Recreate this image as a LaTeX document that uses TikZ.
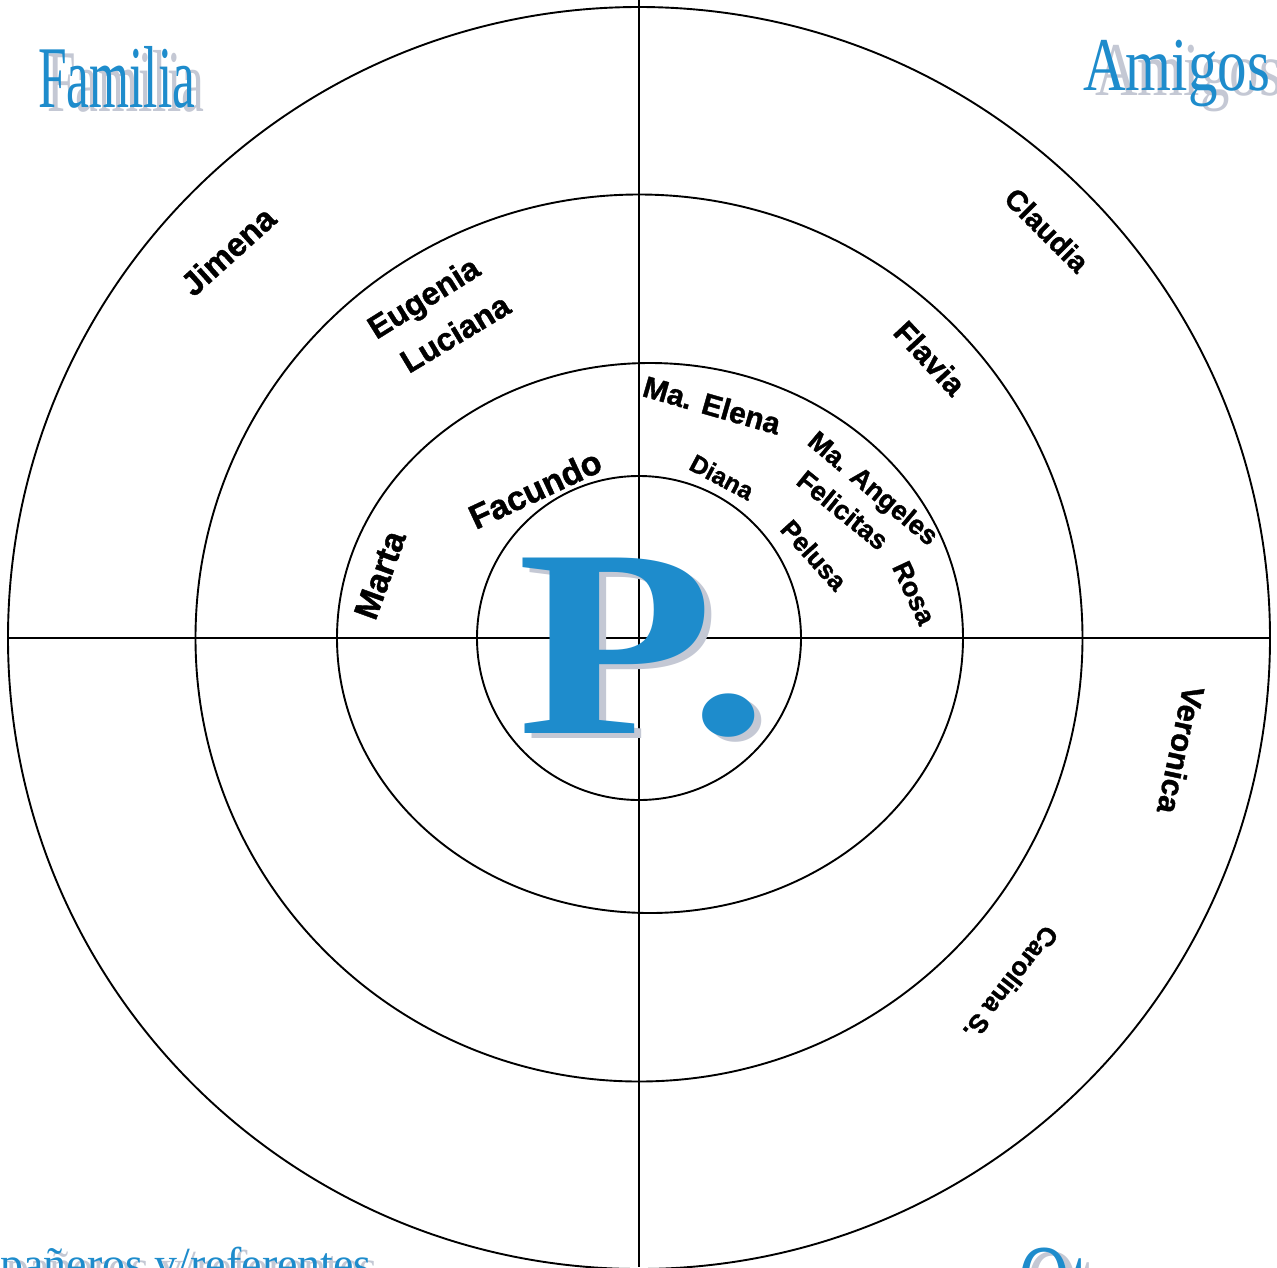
\documentclass[tikz,border=0pt]{standalone}
\usepackage{fontspec}
\setmainfont{Liberation Serif}
\newfontfamily\namefont{Liberation Sans}[BoldFeatures={FakeBold=1.2}]
\definecolor{pblue}{RGB}{30,140,204}
\definecolor{pshadow}{RGB}{196,200,212}
\begin{document}
\begin{tikzpicture}[x=1pt,y=1pt,
  ring/.style={draw=black, line width=1.9pt},
  title/.style={inner sep=0pt, anchor=base west},
  who/.style={inner sep=0pt, font=\namefont\bfseries, text=black}]
\useasboundingbox (0,0) rectangle (1277,-1267);
\clip (0,0) rectangle (1277,-1267);
\fill[white] (0,0) rectangle (1277,-1267);
% rings
\coordinate (C) at (639,-638);
\coordinate (C2) at (650,-638);
\draw[ring] (C) circle[radius=162];
\draw[ring] (C2) ellipse[x radius=313, y radius=275];
\draw[ring] (C) circle[radius=443.5];
\draw[ring] (C) circle[radius=631];
\coordinate (top) at (639,0);
\coordinate (bot) at (639,-1267);
\coordinate (lft) at (8,-638);
\coordinate (rgt) at (1270,-638);
\draw[ring] (top) -- (bot);
\draw[ring] (lft) -- (rgt);
% quadrant titles
\node[title, text=pshadow] (familiash) at (47,-111) {\fontsize{88}{88}\selectfont\scalebox{0.584}[1]{Familia}};
\node[title, text=pblue] (familia) at (38,-107) {\fontsize{88}{88}\selectfont\scalebox{0.584}[1]{Familia}};
\node[title, text=pshadow] (amigossh) at (1095,-95) {\fontsize{76}{76}\selectfont\scalebox{0.776}[1]{Amigos}};
\node[title, text=pblue] (amigos) at (1083,-90) {\fontsize{76}{76}\selectfont\scalebox{0.776}[1]{Amigos}};
\node[title, text=pshadow] (compsh) at (6,-1282) {\fontsize{46}{46}\selectfont pañeros y/referentes};
\node[title, text=pblue] (comp) at (0,-1279) {\fontsize{46}{46}\selectfont pañeros y/referentes};
\node[title, text=pshadow] (otrossh) at (1026,-1323) {\fontsize{72}{72}\selectfont\scalebox{1}[1.5]{Otros}};
\node[title, text=pblue] (otros) at (1018,-1319) {\fontsize{72}{72}\selectfont\scalebox{1}[1.5]{Otros}};
% names
\node[who, rotate=42] (jimena) at (228,-251) {\fontsize{33}{33}\selectfont Jimena};
\node[who, rotate=32] (eugenia) at (425,-300) {\fontsize{32}{32}\selectfont Eugenia};
\node[who, rotate=31] (luciana) at (455,-333) {\fontsize{32}{32}\selectfont Luciana};
\node[who, rotate=70] (marta) at (380,-575) {\fontsize{34}{34}\selectfont Marta};
\node[who, rotate=25] (facundo) at (535,-489) {\fontsize{34}{34}\selectfont Facundo};
\node[who, rotate=-16] (maelena) at (712,-405) {\fontsize{30}{30}\selectfont Ma. Elena};
\node[who, rotate=-28] (diana) at (722,-477) {\fontsize{25}{25}\selectfont Diana};
\node[who, rotate=-40] (maangeles) at (872,-490) {\fontsize{27}{27}\selectfont Ma. Angeles};
\node[who, rotate=-39] (felicitas) at (843,-510) {\fontsize{27}{27}\selectfont Felicitas};
\node[who, rotate=-48] (pelusa) at (814,-555) {\fontsize{26}{26}\selectfont Pelusa};
\node[who, rotate=-65] (rosa) at (914,-593) {\fontsize{27}{27}\selectfont Rosa};
\node[who, rotate=-45] (claudia) at (1047,-230) {\fontsize{29}{29}\selectfont Claudia};
\node[who, rotate=-47] (flavia) at (930,-358) {\fontsize{31}{31}\selectfont Flavia};
\node[who, rotate=-102] (veronica) at (1181,-750) {\fontsize{31}{31}\selectfont Veronica};
\node[who, rotate=-128] (carolina) at (1011,-983) {\fontsize{26}{26}\selectfont Carolina S.};
% central P.
\node[title, text=pshadow] (psh) at (524,-738) {\fontsize{268}{268}\selectfont\bfseries\scalebox{1.2}[1]{P\kern-21pt.}};
\node[title, text=pblue] (p) at (517,-733) {\fontsize{268}{268}\selectfont\bfseries\scalebox{1.2}[1]{P\kern-21pt.}};
\end{tikzpicture}
\end{document}
